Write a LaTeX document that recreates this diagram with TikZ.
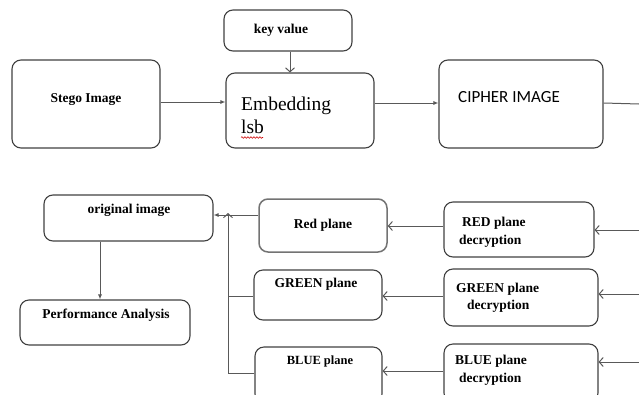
\documentclass[tikz,border=0pt]{standalone}
\usepackage{fontspec}
\setmainfont{Liberation Serif}
\newfontfamily\serfont{Liberation Serif}
\newfontfamily\calfont{Carlito}
\usetikzlibrary{arrows.meta,decorations.pathmorphing}
\begin{document}
\begin{tikzpicture}[x=1pt,y=-1pt,
  box/.style={draw=black!75,line width=1.1pt,rounded corners=9pt,inner sep=0pt},
  lbl/.style={font=\serfont\fontsize{13.5}{15}\selectfont\bfseries,inner sep=0pt},
  con/.style={draw=black!65,line width=1pt},
  fa/.style={con,-{Latex[length=5pt,width=4pt]}},
  oa/.style={con,-{Straight Barb[length=4pt,width=9pt]}}]
\useasboundingbox (0,0) rectangle (639,394);
\clip (0,0) rectangle (639,394);
% top row boxes
\node[box,minimum width=148pt,minimum height=88pt] (stego) at (86,104) {};
\node[lbl] (stegoT) at (86,100) {Stego Image};
\node[box,minimum width=128pt,minimum height=41pt] (key) at (288,30.5) {};
\node[lbl] (keyT) at (281,30) {key value};
\node[box,minimum width=148pt,minimum height=75pt] (emb) at (300,110.5) {};
\node[inner sep=0pt,anchor=base west,font=\serfont\fontsize{19.5}{23}\selectfont] (embT1) at (241,110) {Embedding};
\node[inner sep=0pt,anchor=base west,font=\serfont\fontsize{19.5}{23}\selectfont] (embT2) at (241,133) {lsb};
\draw[red!80!black,line width=0.6pt,decorate,decoration={snake,segment length=3pt,amplitude=0.8pt}] (241,137.5) -- (263,137.5);
\node[box,minimum width=164pt,minimum height=88pt] (ciph) at (521,104) {};
\node[inner sep=0pt,anchor=west,font=\calfont\fontsize{17}{19}\selectfont] (ciphT) at (458,97) {CIPHER IMAGE};
% bottom-left boxes
\node[box,minimum width=169pt,minimum height=46pt] (orig) at (128.5,218) {};
\node[lbl] (origT) at (129,210) {original image};
\node[box,minimum width=170pt,minimum height=45pt] (perf) at (105,322.5) {};
\node[lbl] (perfT) at (106,315) {Performance Analysis};
% plane boxes
\node[box,draw=black!55,line width=1.5pt,minimum width=128pt,minimum height=53pt] (red) at (323,225.5) {};
\node[lbl] (redT) at (323,225) {Red plane};
\node[box,minimum width=128pt,minimum height=50pt] (green) at (318,295) {};
\node[lbl] (greenT) at (316,284) {GREEN  plane};
\node[box,minimum width=127pt,minimum height=56pt] (blue) at (318.5,375) {};
\node[lbl,font=\serfont\fontsize{12.5}{14}\selectfont\bfseries] (blueT) at (320,361) {BLUE plane};
% decryption boxes
\node[box,minimum width=150pt,minimum height=55pt] (rdec) at (519,229.5) {};
\node[lbl,anchor=west] (rdecT1) at (462,223) {RED plane};
\node[lbl,anchor=west] (rdecT2) at (459,241) {decryption};
\node[box,minimum width=154pt,minimum height=57pt] (gdec) at (521,297.5) {};
\node[lbl,anchor=west] (gdecT1) at (456,289) {GREEN plane};
\node[lbl,anchor=west] (gdecT2) at (467,306) {decryption};
\node[box,minimum width=154pt,minimum height=58pt] (bdec) at (521,373) {};
\node[lbl,anchor=west] (bdecT1) at (455,361) {BLUE plane};
\node[lbl,anchor=west] (bdecT2) at (459,379) {decryption};
% helper coordinates
\coordinate (kx) at (290,0);
\coordinate (y102) at (0,102);
\coordinate (y103) at (0,103);
\coordinate (cOut) at (639,104);
\coordinate (rIn) at (639,230);
\coordinate (gIn) at (639,294);
\coordinate (bIn) at (639,362);
\coordinate (vt) at (228,213);
\coordinate (vg) at (228,296);
\coordinate (vb) at (228,373);
\coordinate (y215) at (0,215);
\coordinate (y226) at (0,226);
\coordinate (y296) at (0,296);
\coordinate (y371) at (0,371);
\coordinate (px) at (100,0);
% connectors
\draw[oa] (key.south -| kx) -- (emb.north -| kx);
\draw[fa] (stego.east |- y102) -- (emb.west |- y102);
\draw[fa] (emb.east |- y103) -- (ciph.west |- y103);
\draw[con] (ciph.east |- y103) -- (cOut);
\draw[oa] (rIn) -- (rdec.east |- rIn);
\draw[oa] (gIn) -- (gdec.east |- gIn);
\draw[oa] (bIn) -- (bdec.east |- bIn);
\draw[oa] (rdec.west |- y226) -- (red.east |- y226);
\draw[oa] (gdec.west |- y296) -- (green.east |- y296);
\draw[oa] (bdec.west |- y371) -- (blue.east |- y371);
\draw[fa] (red.west |- y215) -- (orig.east |- y215);
\draw[oa] (vb) -- (vt);
\draw[con] (green.west |- vg) -- (vg);
\draw[con] (blue.west |- vb) -- (vb);
\draw[fa] (orig.south -| px) -- (perf.north -| px);
\end{tikzpicture}
\end{document}
